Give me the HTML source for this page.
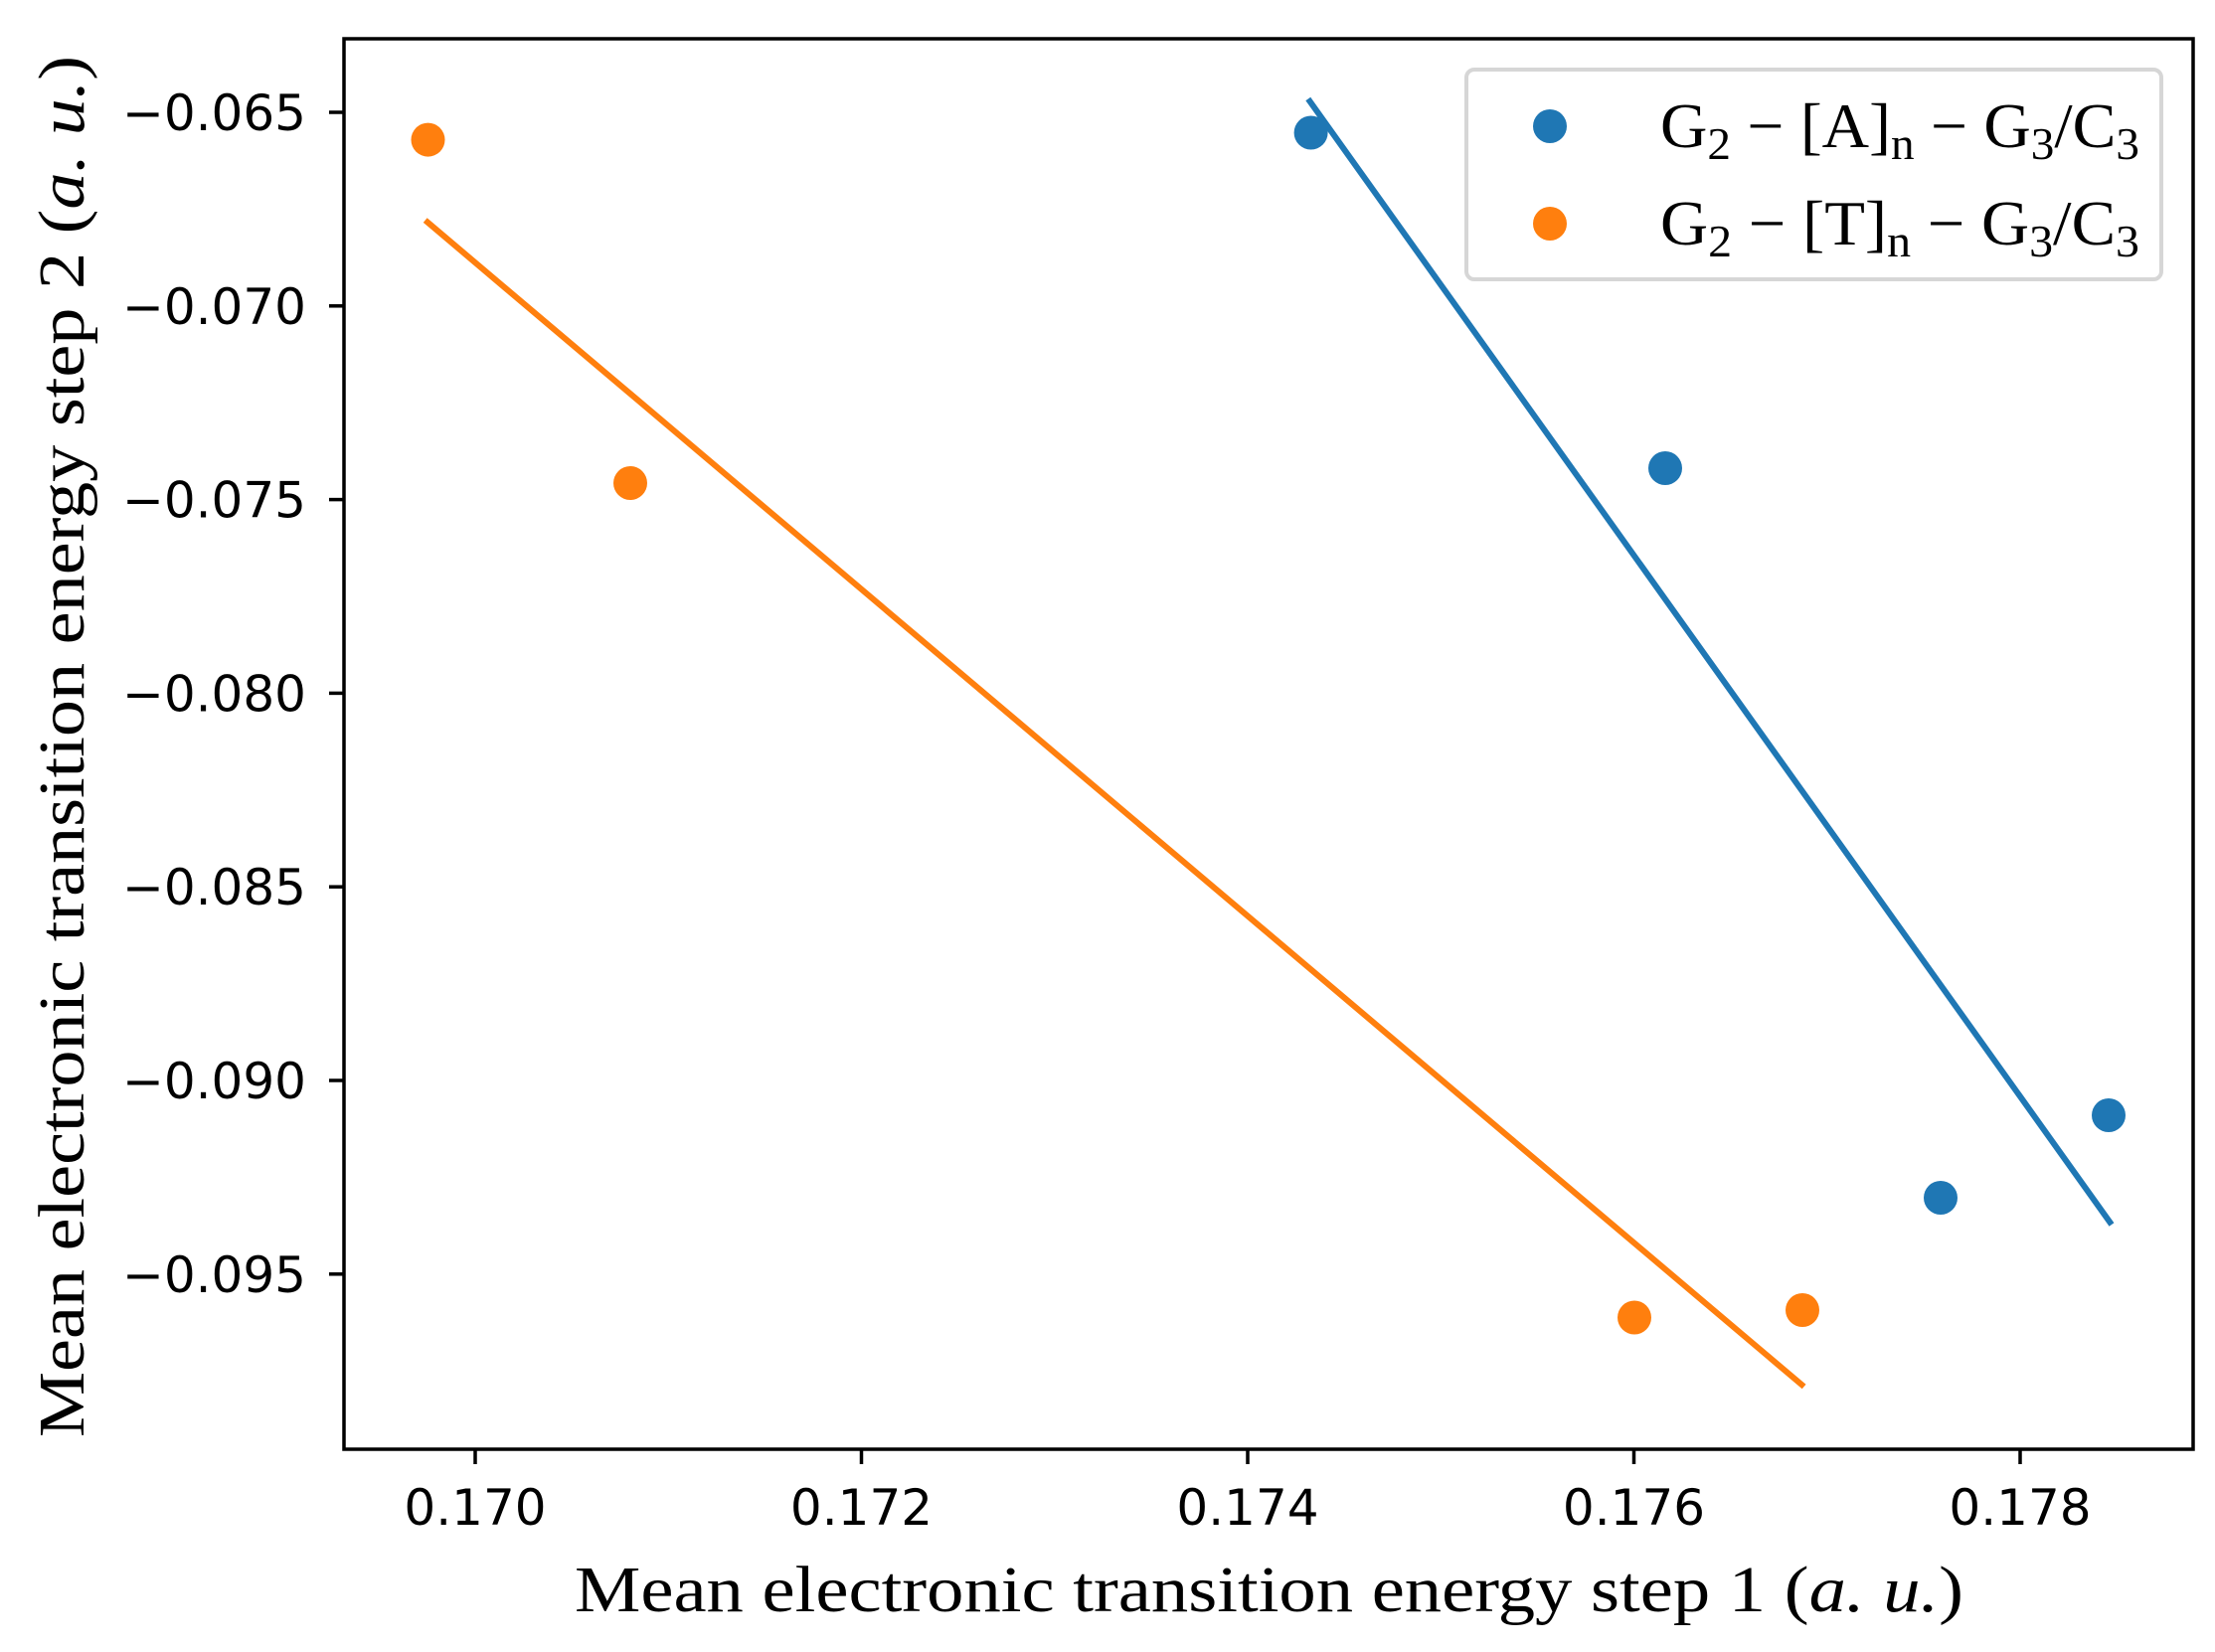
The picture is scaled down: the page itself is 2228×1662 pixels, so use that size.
<!DOCTYPE html>
<html><head><meta charset="utf-8"><style>html,body{margin:0;padding:0;background:#fff}svg{display:block}</style></head>
<body>
<svg width="2228" height="1662" viewBox="0 0 2228 1662" xmlns="http://www.w3.org/2000/svg">
<rect width="2228" height="1662" fill="#fff"/>
<line x1="427.7" y1="221.6" x2="1814.6" y2="1395" stroke="#ff7f0e" stroke-width="6"/>
<line x1="1315.8" y1="99.5" x2="2124" y2="1232" stroke="#1f77b4" stroke-width="6"/>
<g fill="#ff7f0e">
<circle cx="430.5" cy="140.6" r="17"/><circle cx="634" cy="486" r="17"/>
<circle cx="1644" cy="1325.5" r="17"/><circle cx="1813" cy="1318" r="17"/>
</g>
<g fill="#1f77b4">
<circle cx="1318.6" cy="133.5" r="17"/><circle cx="1675" cy="471" r="17"/>
<circle cx="1952" cy="1205" r="17"/><circle cx="2121" cy="1122" r="17"/>
</g>
<rect x="346" y="39" width="1860" height="1419" fill="none" stroke="#000" stroke-width="3.5"/>
<g stroke="#000" stroke-width="3.5">
<line x1="331" y1="113" x2="346" y2="113"/><line x1="331" y1="307.8" x2="346" y2="307.8"/>
<line x1="331" y1="502.6" x2="346" y2="502.6"/><line x1="331" y1="697.4" x2="346" y2="697.4"/>
<line x1="331" y1="892.2" x2="346" y2="892.2"/><line x1="331" y1="1087" x2="346" y2="1087"/>
<line x1="331" y1="1281.8" x2="346" y2="1281.8"/>
<line x1="478" y1="1458" x2="478" y2="1473"/><line x1="866.5" y1="1458" x2="866.5" y2="1473"/>
<line x1="1255" y1="1458" x2="1255" y2="1473"/><line x1="1643.5" y1="1458" x2="1643.5" y2="1473"/>
<line x1="2032" y1="1458" x2="2032" y2="1473"/>
</g>
<g font-family="DejaVu Sans, sans-serif" font-size="50" fill="#000" text-anchor="end">
<text x="308" y="131">−0.065</text><text x="308" y="326">−0.070</text>
<text x="308" y="520.6">−0.075</text><text x="308" y="715.4">−0.080</text>
<text x="308" y="910.2">−0.085</text><text x="308" y="1105">−0.090</text>
<text x="308" y="1299.8">−0.095</text>
</g>
<g font-family="DejaVu Sans, sans-serif" font-size="50" fill="#000" text-anchor="middle">
<text x="478" y="1534">0.170</text><text x="866.5" y="1534">0.172</text>
<text x="1255" y="1534">0.174</text><text x="1643.5" y="1534">0.176</text>
<text x="2032" y="1534">0.178</text>
</g>
<text x="578" y="1621" font-family="Liberation Serif, serif" font-size="66" textLength="1397" lengthAdjust="spacingAndGlyphs">Mean electronic transition energy step 1 (<tspan font-style="italic">a. u.</tspan>)</text>
<text transform="translate(84,1446) rotate(-90)" font-family="Liberation Serif, serif" font-size="66" textLength="1390" lengthAdjust="spacingAndGlyphs">Mean electronic transition energy step 2 (<tspan font-style="italic">a. u.</tspan>)</text>
<rect x="1475" y="70" width="699" height="211" rx="8" fill="#fff" fill-opacity="0.8" stroke="#d6d6d6" stroke-width="4"/>
<circle cx="1559" cy="127" r="17" fill="#1f77b4"/>
<circle cx="1559" cy="225" r="17" fill="#ff7f0e"/>
<g font-family="Liberation Serif, serif" font-size="64" fill="#000">
<text x="1670" y="148" textLength="482" lengthAdjust="spacingAndGlyphs">G<tspan font-size="46" dy="12">2</tspan><tspan dy="-12"> − [A]</tspan><tspan font-size="46" dy="12">n</tspan><tspan dy="-12"> − G</tspan><tspan font-size="46" dy="12">3</tspan><tspan dy="-12">/C</tspan><tspan font-size="46" dy="12">3</tspan></text>
<text x="1670" y="246" textLength="482" lengthAdjust="spacingAndGlyphs">G<tspan font-size="46" dy="12">2</tspan><tspan dy="-12"> − [T]</tspan><tspan font-size="46" dy="12">n</tspan><tspan dy="-12"> − G</tspan><tspan font-size="46" dy="12">3</tspan><tspan dy="-12">/C</tspan><tspan font-size="46" dy="12">3</tspan></text>
</g>
</svg>
</body></html>
